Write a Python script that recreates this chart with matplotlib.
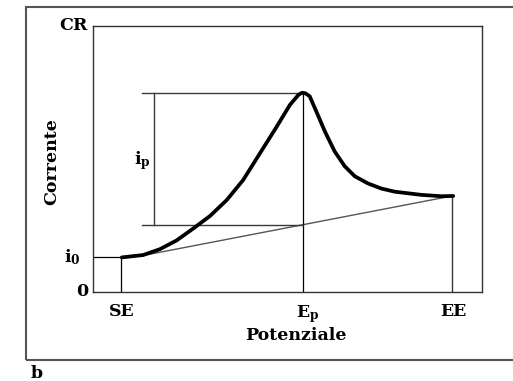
import matplotlib
matplotlib.use("Agg")
import matplotlib.pyplot as plt
from matplotlib.patches import Rectangle

FONT = 'DejaVu Serif'
plt.rcParams['font.family'] = [FONT, 'Liberation Serif']
plt.rcParams['font.weight'] = 'bold'
plt.rcParams['mathtext.fontset'] = 'custom'
plt.rcParams['mathtext.rm'] = FONT + ':bold'
plt.rcParams['mathtext.it'] = FONT + ':bold'
plt.rcParams['mathtext.bf'] = FONT + ':bold'

# Data (arbitrary units)
curve_x = [7.4, 12.9, 17.2, 21.5, 25.8, 30.1, 34.4, 38.6, 42.9, 47.2, 50.6,
           52.8, 53.7, 54.6, 55.7, 57.4, 59.6, 62.1, 64.7, 67.3, 70.7, 74.1,
           77.6, 84.5, 89.6, 92.6]
curve_y = [13.0, 13.9, 16.1, 19.4, 23.9, 28.6, 34.6, 42.1, 52.1, 62.1, 70.3,
           74.1, 74.9, 74.7, 73.6, 67.9, 60.4, 52.9, 47.3, 43.5, 40.8, 38.9,
           37.7, 36.5, 36.0, 36.1]
SE, EP, EE = 7.2, 54.0, 92.3
I0, PEAK, BASE_EP, EE_Y = 13.2, 74.8, 25.2, 36.1
BASE_START = 12.1
IP_X, IP_LEFT = 15.7, 12.6
x_ticks = [SE, EP, EE]
x_labels = ['SE', r'$E_p$', 'EE']
x_label_dx = [1, 5, 1]          # pixel offsets of the labels
y_ticks = [0, I0, 100]
y_labels = ['0', r'$i_0$', 'CR']
y_label_dx = [-5, -13, -5]

FS = 12.5
fig = plt.figure(figsize=(5.13, 3.81), dpi=100)
fig.patches.append(Rectangle((26/513, 1-360/381), 1.0, (360-7)/381,
                             transform=fig.transFigure, fill=False,
                             edgecolor='#555555', linewidth=1.5))
ax = fig.add_axes([93/513, 1-292/381, 389/513, 266/381])
ax.set_xlim(0, 100)
ax.set_ylim(0, 100)

thin = dict(color='black', linewidth=0.9)
grey = dict(color='#3a3a3a', linewidth=1.0)
# baseline
ax.plot([BASE_START, EE], [I0 + 0.3, EE_Y], color='#555555', linewidth=1.0)
# i0 horizontal, SE vertical
ax.plot([0, SE], [I0, I0], **thin)
ax.plot([SE, SE], [0, I0], **thin)
# Ep vertical
ax.plot([EP, EP], [0, PEAK], **thin)
# EE vertical
ax.plot([EE, EE], [0, EE_Y], **grey)
# peak lines
ax.plot([IP_LEFT, EP], [PEAK, PEAK], **grey)
ax.plot([IP_LEFT, EP], [BASE_EP, BASE_EP], **grey)
ax.plot([IP_X, IP_X], [BASE_EP, PEAK], **grey)
# main curve
ax.plot(curve_x, curve_y, color='black', linewidth=2.7,
        solid_capstyle='round', solid_joinstyle='round')

ax.text(IP_X - 1.0, 49.5, r'$i_p$', ha='right', va='center', fontsize=FS)

ax.set_xticks(x_ticks)
ax.set_xticklabels([])
ax.set_yticks(y_ticks)
ax.set_yticklabels([])
ax.tick_params(length=0)

xt = ax.get_xaxis_transform()
for x, lab, dx in zip(x_ticks, x_labels, x_label_dx):
    ax.annotate(lab, (x, 0), xycoords=xt, xytext=(dx * 0.72, -8),
                textcoords='offset points', ha='center', va='top',
                fontsize=FS)
yt = ax.get_yaxis_transform()
for y, lab, dx in zip(y_ticks, y_labels, y_label_dx):
    ax.annotate(lab, (0, y), xycoords=yt, xytext=(dx * 0.72, 0),
                textcoords='offset points', ha='right', va='center',
                fontsize=FS)

for s in ax.spines.values():
    s.set_color('#333333')
    s.set_linewidth(1.0)

fig.text(296/513, 1-336/381, 'Potenziale', fontsize=FS, fontweight='bold',
         ha='center', va='center')
fig.text(51.7/513, 1-162/381, 'Corrente', fontsize=FS, fontweight='bold',
         rotation=90, ha='center', va='center')
fig.text(37/513, 1-373/381, 'b', fontsize=FS, ha='center', va='center')

fig.savefig('out.png', dpi=100)
